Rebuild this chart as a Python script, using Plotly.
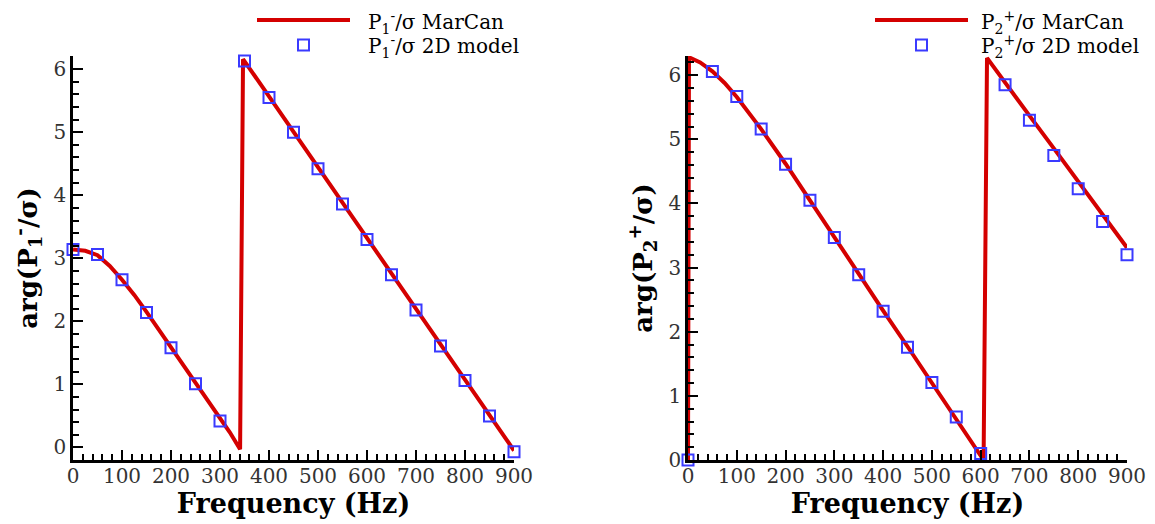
import plotly.graph_objects as go

# ---------------- data ----------------
# Left panel: P1^- / sigma
line1_f = [0, 25, 50, 75, 100, 125, 150, 175, 200, 225, 250, 275, 300, 320, 341, 347, 400, 500, 600, 700, 800, 900]
line1_v = [3.14, 3.12, 3.05, 2.88, 2.66, 2.42, 2.15, 1.87, 1.59, 1.31, 1.03, 0.75, 0.47, 0.24, -0.03,
           6.16, 5.57, 4.45, 3.32, 2.20, 1.07, -0.05]
mark1_f = [0, 50, 100, 150, 200, 250, 300, 350, 400, 450, 500, 550, 600, 650, 700, 750, 800, 850, 900]
mark1_v = [3.14, 3.06, 2.66, 2.14, 1.58, 1.01, 0.42, 6.13, 5.55, 5.00, 4.42, 3.86, 3.30, 2.74, 2.18,
           1.61, 1.06, 0.50, -0.07]

# Right panel: P2^+ / sigma
line2_f = [0, 2, 25, 50, 75, 100, 150, 200, 250, 300, 350, 400, 450, 500, 550, 606, 613, 650, 700, 750,
           800, 850, 900]
line2_v = [0.0, 6.28, 6.20, 6.06, 5.88, 5.66, 5.16, 4.62, 4.05, 3.47, 2.90, 2.33, 1.77, 1.20, 0.63, 0.0,
           6.27, 5.88, 5.37, 4.86, 4.34, 3.82, 3.31]
mark2_f = [0, 50, 100, 150, 200, 250, 300, 350, 400, 450, 500, 550, 600, 650, 700, 750, 800, 850, 900]
mark2_v = [0.0, 6.06, 5.67, 5.16, 4.61, 4.05, 3.47, 2.89, 2.32, 1.76, 1.21, 0.67, 0.10, 5.85, 5.30,
           4.75, 4.23, 3.72, 3.20]

xticks = [0, 100, 200, 300, 400, 500, 600, 700, 800, 900]
yticks = [0, 1, 2, 3, 4, 5, 6]

names1 = ["P<sub>1</sub><sup>-</sup>/σ MarCan", "P<sub>1</sub><sup>-</sup>/σ 2D model"]
names2 = ["P<sub>2</sub><sup>+</sup>/σ MarCan", "P<sub>2</sub><sup>+</sup>/σ 2D model"]

RED = "#d40000"
BLUE = "#3a3aff"
FONT = "DejaVu Serif"

fig = go.Figure()

fig.add_trace(go.Scatter(x=line1_f, y=line1_v, mode="lines", line=dict(color=RED, width=4),
                         name=names1[0], xaxis="x", yaxis="y", cliponaxis=False))
fig.add_trace(go.Scatter(x=mark1_f, y=mark1_v, mode="markers",
                         marker=dict(symbol="square-open", size=11, color=BLUE, line=dict(width=2)),
                         name=names1[1], xaxis="x", yaxis="y", cliponaxis=False))
fig.add_trace(go.Scatter(x=line2_f, y=line2_v, mode="lines", line=dict(color=RED, width=4),
                         name=names2[0], xaxis="x2", yaxis="y2", cliponaxis=False))
fig.add_trace(go.Scatter(x=mark2_f, y=mark2_v, mode="markers",
                         marker=dict(symbol="square-open", size=11, color=BLUE, line=dict(width=2)),
                         name=names2[1], xaxis="x2", yaxis="y2", cliponaxis=False))

# page is drawn with an 8px body margin, so figure coords = page coords - 8
OFF = 8
W, H = 1155 - OFF, 524 - OFF


def px(x):
    return (x - OFF) / W


def py(y):
    return (H - (y - OFF)) / H


def xaxis(domain, anchor):
    return dict(domain=domain, anchor=anchor, range=[0, 900], tickvals=xticks, automargin=False,
                ticks="inside", ticklen=10, tickwidth=2, tickcolor="black", ticklabelstandoff=-4,
                minor=dict(dtick=20, ticks="inside", ticklen=6, tickwidth=1.5, tickcolor="black"),
                showline=True, linewidth=2.5, linecolor="black", showgrid=False, zeroline=False,
                tickfont=dict(family=FONT, size=20, color="#333"),
                title=dict(text="<b>Frequency (Hz)</b>", font=dict(family=FONT, size=27, color="black"),
                           standoff=0))


def yaxis(domain, anchor, rng, title):
    return dict(domain=domain, anchor=anchor, range=rng, tickvals=yticks, automargin=False,
                ticks="inside", ticklen=10, tickwidth=2, tickcolor="black",
                minor=dict(dtick=0.2, ticks="inside", ticklen=6, tickwidth=1.5, tickcolor="black"),
                showline=True, linewidth=2.5, linecolor="black", showgrid=False, zeroline=False,
                tickfont=dict(family=FONT, size=20, color="#333"),
                title=dict(text=title, font=dict(family=FONT, size=26, color="black"), standoff=9))


# legend drawn as shapes + text (long line sample as in the reference)
ROW1, ROW2 = 22, 46
shapes = []
annotations = []
for (x_line0, x_text, names) in [(257, 367, names1), (875, 980, names2)]:
    x_line1 = x_line0 + 93
    xc = (x_line0 + x_line1) / 2
    shapes.append(dict(type="line", xref="paper", yref="paper", x0=px(x_line0), x1=px(x_line1),
                       y0=py(ROW1 - 2), y1=py(ROW1 - 2), line=dict(color=RED, width=4)))
    shapes.append(dict(type="rect", xref="paper", yref="paper", xsizemode="pixel", ysizemode="pixel",
                       xanchor=px(xc), yanchor=py(ROW2 - 1), x0=-5.5, x1=5.5, y0=-5.5, y1=5.5,
                       line=dict(color=BLUE, width=2), fillcolor="rgba(0,0,0,0)"))
    for name, yy in zip(names, [ROW1, ROW2]):
        annotations.append(dict(text=name, xref="paper", yref="paper", x=px(x_text), y=py(yy),
                                xanchor="left", yanchor="middle", showarrow=False, borderpad=0,
                                font=dict(family=FONT, size=20, color="black")))

ydom = [py(460), py(56)]
fig.update_layout(
    width=W, height=H,
    margin=dict(l=0, r=0, t=0, b=0, autoexpand=False),
    font=dict(family=FONT, color="black"),
    plot_bgcolor="white", paper_bgcolor="white",
    xaxis=xaxis([px(73), px(514)], "y"),
    yaxis=yaxis(ydom, "x", [-0.2, 6.21], "<b>arg(P<sub>1</sub><sup>-</sup>/σ)</b>"),
    xaxis2=xaxis([px(688), px(1127)], "y2"),
    yaxis2=yaxis(ydom, "x2", [0, 6.3], "<b>arg(P<sub>2</sub><sup>+</sup>/σ)</b>"),
    showlegend=False,
    shapes=shapes,
    annotations=annotations,
)

fig.write_html("out.html")
